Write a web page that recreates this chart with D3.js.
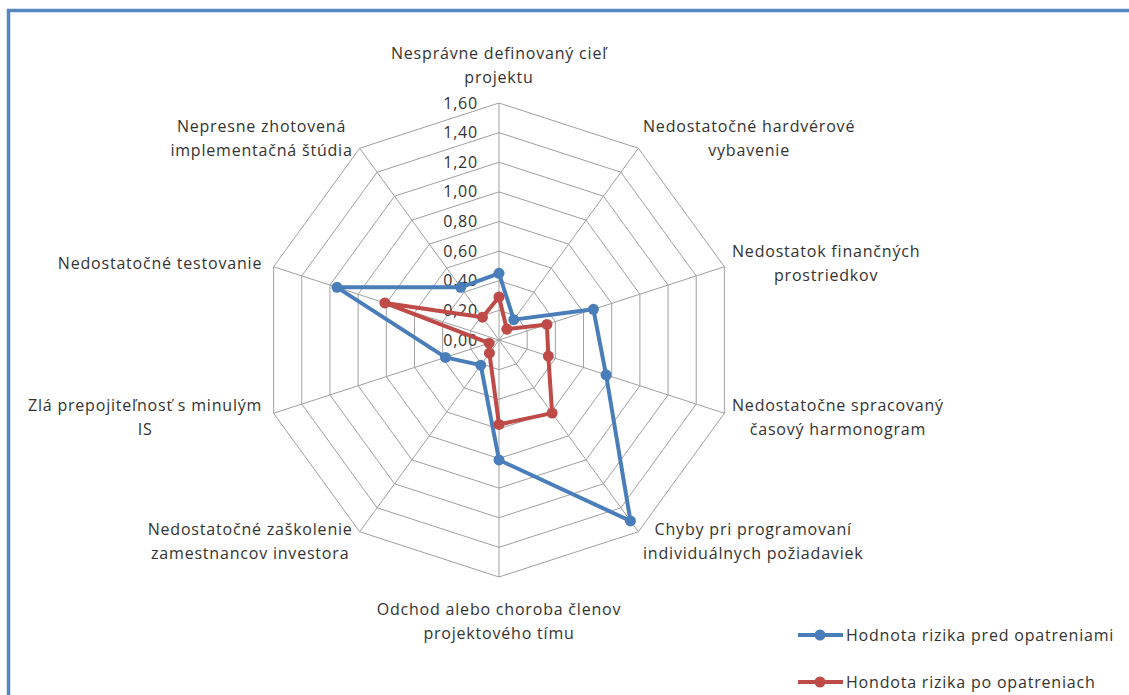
<!DOCTYPE html>
<html>
<head>
<meta charset="utf-8">
<script src="https://cdn.jsdelivr.net/npm/d3@7"></script>
<style>
  html, body { margin: 0; padding: 0; background: #fff; overflow: hidden; }
  text { font-family: "Open Sans", sans-serif; fill: #333; letter-spacing: 0.8px; }
</style>
</head>
<body>
<div id="canvas"></div>
<script>
// categories (one per spoke, clockwise from the top)
const categories = [
  ['Nesprávne definovaný cieľ', 'projektu'],
  ['Nedostatočné hardvérové', 'vybavenie'],
  ['Nedostatok finančných', 'prostriedkov'],
  ['Nedostatočne spracovaný', 'časový harmonogram'],
  ['Chyby pri programovaní', 'individuálnych požiadaviek'],
  ['Odchod alebo choroba členov', 'projektového tímu'],
  ['Nedostatočné zaškolenie', 'zamestnancov investora'],
  ['Zlá prepojiteľnosť s minulým', 'IS'],
  ['Nedostatočné testovanie'],
  ['Nepresne zhotovená', 'implementačná štúdia']
]
// series values
const before = [0.45, 0.17, 0.67, 0.76, 1.51, 0.81, 0.21, 0.38, 1.15, 0.44]
const after = [0.29, 0.09, 0.34, 0.35, 0.61, 0.57, 0.11, 0.07, 0.81, 0.19]
const seriesNames = ['Hodnota rizika pred opatreniami', 'Hondota rizika po opatreniach']
// radial ticks
const ticks = [0, 0.2, 0.4, 0.6, 0.8, 1.0, 1.2, 1.4, 1.6]

const width = 1129
const height = 695
const cx = 499
const cy = 340
const colors = ['#4a7ebb', '#be4b48']
const fontSize = '16px'

const svg = d3.select('#canvas').append('svg')
  .attr('width', width)
  .attr('height', height)

const r = d3.scaleLinear().domain([0, 1.6]).range([0, 237])
const angle = d3.scaleLinear().domain([0, categories.length]).range([0, 2 * Math.PI])

const pt = (i, v) => [cx + r(v) * Math.sin(angle(i)), cy - r(v) * Math.cos(angle(i))]

// outer frame
svg.append('rect')
  .attr('x', 8.5).attr('y', 10.5)
  .attr('width', 1200).attr('height', 800)
  .attr('fill', 'none')
  .attr('stroke', '#5586c2')
  .attr('stroke-width', 3.5)

const grid = svg.append('g')

// web rings
ticks.slice(1).forEach(t => {
  grid.append('path')
    .attr('d', d3.line()(categories.map((c, i) => pt(i, t))) + 'Z')
    .attr('fill', 'none')
    .attr('stroke', '#a0a0a0')
    .attr('stroke-width', 1)
})

// spokes
categories.forEach((c, i) => {
  const [x, y] = pt(i, 1.6)
  grid.append('line')
    .attr('x1', cx).attr('y1', cy)
    .attr('x2', x).attr('y2', y)
    .attr('stroke', '#a0a0a0')
    .attr('stroke-width', 1)
})

// tick labels
ticks.forEach(t => {
  svg.append('text')
    .attr('x', cx - 21)
    .attr('y', cy - r(t))
    .attr('dy', '0.35em')
    .attr('text-anchor', 'end')
    .style('font-size', fontSize)
    .text(d3.format('.2f')(t).replace('.', ','))
})

// category labels
categories.forEach((lines, i) => {
  const a = angle(i)
  const s = Math.sin(a)
  const c = Math.cos(a)
  const [vx, vy] = pt(i, 1.6)
  const g = svg.append('g')
  const t = g.append('text')
    .attr('text-anchor', 'middle')
    .style('font-size', fontSize)
  lines.forEach((l, k) => {
    t.append('tspan').attr('x', 0).attr('y', k * 24).attr('dy', '0.35em').text(l)
  })
  const w = d3.max(t.selectAll('tspan').nodes(), n => n.getComputedTextLength())
  const h = (lines.length - 1) * 24
  let x = vx
  let y = vy - c * 12 - h / 2
  if (s > 0.01) x = vx + 8 * s + w / 2
  else if (s < -0.01) x = vx + 12 * s - w / 2
  else if (c > 0) y = vy - 50
  else y = vy + 32
  g.attr('transform', `translate(${x},${y})`)
})

// series
;[before, after].forEach((vals, si) => {
  const points = vals.map((v, i) => pt(i, v))
  svg.append('path')
    .attr('d', d3.line()(points) + 'Z')
    .attr('fill', 'none')
    .attr('stroke', colors[si])
    .attr('stroke-width', 4)
    .attr('stroke-linejoin', 'round')
  svg.selectAll(null).data(points).enter().append('circle')
    .attr('cx', d => d[0]).attr('cy', d => d[1])
    .attr('r', 5.5)
    .attr('fill', colors[si])
})

// legend
seriesNames.forEach((name, si) => {
  const y = 635 + si * 47
  svg.append('line')
    .attr('x1', 798).attr('x2', 843)
    .attr('y1', y).attr('y2', y)
    .attr('stroke', colors[si])
    .attr('stroke-width', 4)
  svg.append('circle')
    .attr('cx', 820).attr('cy', y).attr('r', 5.5)
    .attr('fill', colors[si])
  svg.append('text')
    .attr('x', 846).attr('y', y)
    .attr('dy', '0.35em')
    .style('font-size', fontSize)
    .text(name)
})
</script>
</body>
</html>
